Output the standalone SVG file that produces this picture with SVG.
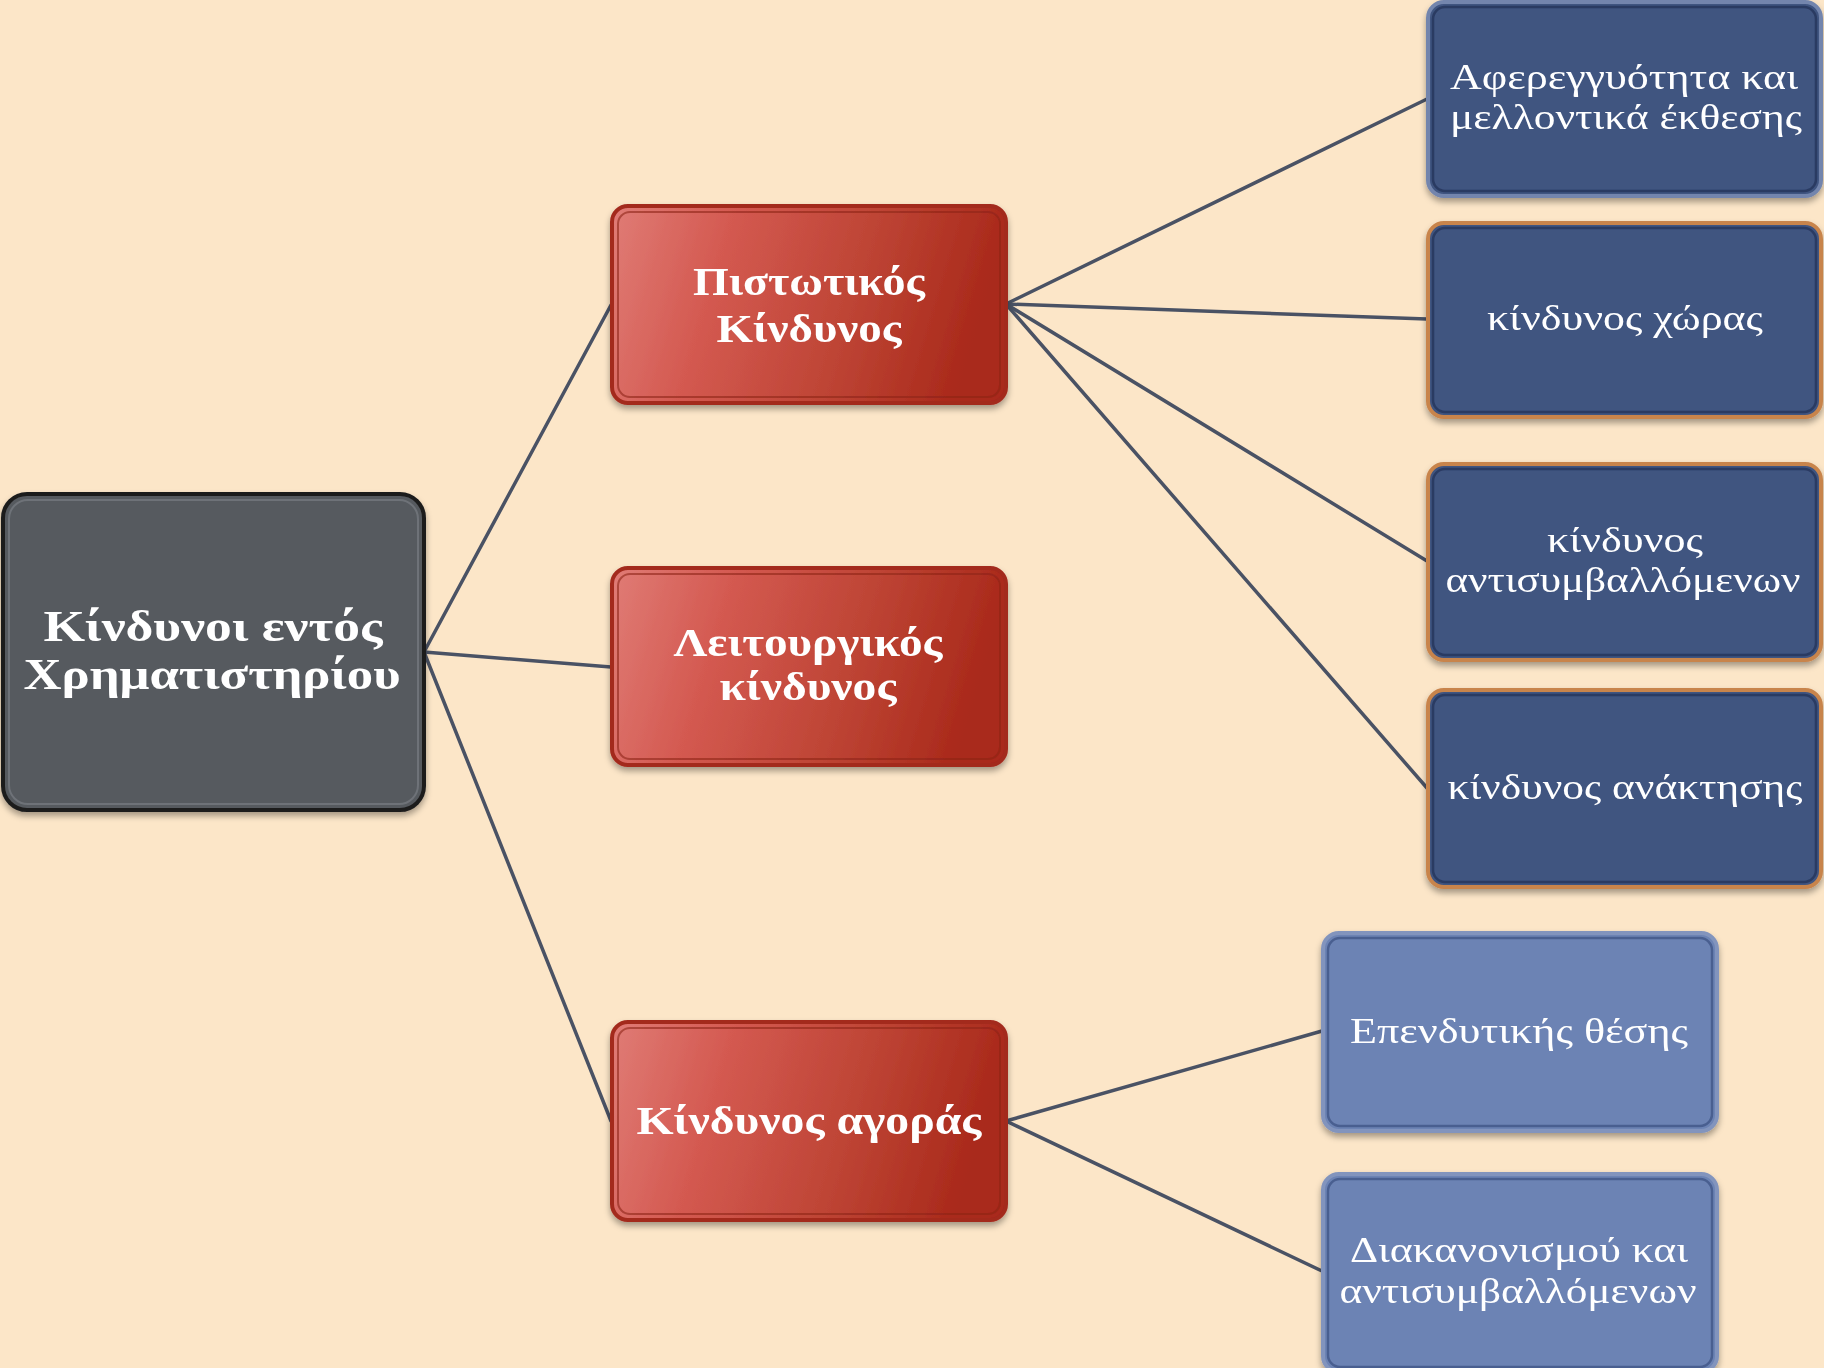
<svg xmlns="http://www.w3.org/2000/svg" width="1824" height="1368" viewBox="0 0 1824 1368">
<defs>
<linearGradient id="red" x1="0" y1="0" x2="1" y2="0.15">
<stop offset="0" stop-color="#e07c76"/>
<stop offset="0.3" stop-color="#d45a51"/>
<stop offset="0.7" stop-color="#bc4232"/>
<stop offset="1" stop-color="#a9291b"/>
</linearGradient>
<filter id="sh" x="-10%" y="-10%" width="120%" height="125%">
<feDropShadow dx="0" dy="4" stdDeviation="3" flood-color="#000" flood-opacity="0.35"/>
</filter>
<style>
.t{font-family:"Liberation Serif","DejaVu Serif",serif;fill:#fff;text-anchor:middle}
.b{font-weight:bold}
.r{font-size:36px}
.con{stroke:#4a5264;stroke-width:3.5;fill:none;stroke-linecap:round}
.redbox{fill:url(#red);stroke:#a3291d;stroke-width:4}
.redin{fill:none;stroke:#8e2417;stroke-opacity:0.6;stroke-width:2}
.dark{fill:#3f5480;stroke:#c8844c;stroke-width:4}
.darkin{fill:none;stroke:#2b3b62;stroke-width:2.5}
.light{fill:#6c83b4;stroke:#8294bd;stroke-width:4}
.lightin{fill:none;stroke:#4a5f90;stroke-width:2.5}
</style>
</defs>
<rect x="0" y="0" width="1824" height="1368" fill="#fce6c8"/>
<g id="connectors">
<line class="con" x1="424" y1="652" x2="611" y2="305"/>
<line class="con" x1="424" y1="652" x2="611" y2="667"/>
<line class="con" x1="424" y1="652" x2="611" y2="1121"/>
<line class="con" x1="1006" y1="304" x2="1427" y2="99"/>
<line class="con" x1="1006" y1="304" x2="1427" y2="319"/>
<line class="con" x1="1006" y1="304" x2="1427" y2="561"/>
<line class="con" x1="1006" y1="304" x2="1427" y2="788"/>
<line class="con" x1="1006" y1="1121" x2="1322" y2="1031"/>
<line class="con" x1="1006" y1="1121" x2="1322" y2="1271"/>
</g>
<g id="root" filter="url(#sh)">
<rect x="3" y="494" width="421" height="316" rx="24" fill="#565a5f" stroke="#1e1e1e" stroke-width="4"/>
<rect x="9" y="500" width="409" height="304" rx="19" fill="none" stroke="#6e7278" stroke-width="2"/>
<text class="t b" x="213" y="641" font-size="44" textLength="339" lengthAdjust="spacingAndGlyphs">Κίνδυνοι εντός</text>
<text class="t b" x="212" y="689" font-size="44" textLength="377" lengthAdjust="spacingAndGlyphs">Χρηματιστηρίου</text>
</g>
<g id="pistotikos" filter="url(#sh)">
<rect class="redbox" x="612" y="206" width="394" height="197" rx="16"/>
<rect class="redin" x="618" y="212" width="382" height="185" rx="12"/>
<text class="t b" x="809" y="295" font-size="41" textLength="232" lengthAdjust="spacingAndGlyphs">Πιστωτικός</text>
<text class="t b" x="809" y="342" font-size="41" textLength="185" lengthAdjust="spacingAndGlyphs">Κίνδυνος</text>
</g>
<g id="leitourgikos" filter="url(#sh)">
<rect class="redbox" x="612" y="568" width="394" height="197" rx="16"/>
<rect class="redin" x="618" y="574" width="382" height="185" rx="12"/>
<text class="t b" x="808" y="656" font-size="39" textLength="269" lengthAdjust="spacingAndGlyphs">Λειτουργικός</text>
<text class="t b" x="808" y="700" font-size="39" textLength="177" lengthAdjust="spacingAndGlyphs">κίνδυνος</text>
</g>
<g id="agoras" filter="url(#sh)">
<rect class="redbox" x="612" y="1022" width="394" height="198" rx="16"/>
<rect class="redin" x="618" y="1028" width="382" height="186" rx="12"/>
<text class="t b" x="809" y="1134" font-size="41" textLength="345" lengthAdjust="spacingAndGlyphs">Κίνδυνος αγοράς</text>
</g>
<g id="aferegyotita" filter="url(#sh)">
<rect class="dark" x="1428" y="2" width="393" height="194" rx="16" style="stroke:#7385ad"/>
<rect class="darkin" x="1433" y="7" width="383" height="184" rx="12"/>
<text class="t r" x="1624" y="89" textLength="348" lengthAdjust="spacingAndGlyphs">Αφερεγγυότητα και</text>
<text class="t r" x="1626" y="129" textLength="352" lengthAdjust="spacingAndGlyphs">μελλοντικά έκθεσης</text>
</g>
<g id="xoras" filter="url(#sh)">
<rect class="dark" x="1428" y="223" width="393" height="194" rx="16"/>
<rect class="darkin" x="1433" y="228" width="383" height="184" rx="12"/>
<text class="t r" x="1625" y="330" textLength="276" lengthAdjust="spacingAndGlyphs">κίνδυνος χώρας</text>
</g>
<g id="antisymvallomenon" filter="url(#sh)">
<rect class="dark" x="1428" y="464" width="393" height="196" rx="16"/>
<rect class="darkin" x="1433" y="469" width="383" height="186" rx="12"/>
<text class="t r" x="1625" y="552" textLength="156" lengthAdjust="spacingAndGlyphs">κίνδυνος</text>
<text class="t r" x="1623" y="592" textLength="355" lengthAdjust="spacingAndGlyphs">αντισυμβαλλόμενων</text>
</g>
<g id="anaktisis" filter="url(#sh)">
<rect class="dark" x="1428" y="690" width="393" height="197" rx="16"/>
<rect class="darkin" x="1433" y="695" width="383" height="187" rx="12"/>
<text class="t r" x="1625" y="799" textLength="355" lengthAdjust="spacingAndGlyphs">κίνδυνος ανάκτησης</text>
</g>
<g id="ependytikis" filter="url(#sh)">
<rect class="light" x="1323" y="933" width="394" height="198" rx="16"/>
<rect class="lightin" x="1328" y="938" width="384" height="188" rx="12"/>
<text class="t r" x="1519" y="1043" textLength="338" lengthAdjust="spacingAndGlyphs">Επενδυτικής θέσης</text>
</g>
<g id="diakanonismou" filter="url(#sh)">
<rect class="light" x="1323" y="1174" width="394" height="198" rx="16"/>
<rect class="lightin" x="1328" y="1179" width="384" height="188" rx="12"/>
<text class="t r" x="1519" y="1262" textLength="338" lengthAdjust="spacingAndGlyphs">Διακανονισμού και</text>
<text class="t r" x="1518" y="1303" textLength="357" lengthAdjust="spacingAndGlyphs">αντισυμβαλλόμενων</text>
</g>
</svg>
